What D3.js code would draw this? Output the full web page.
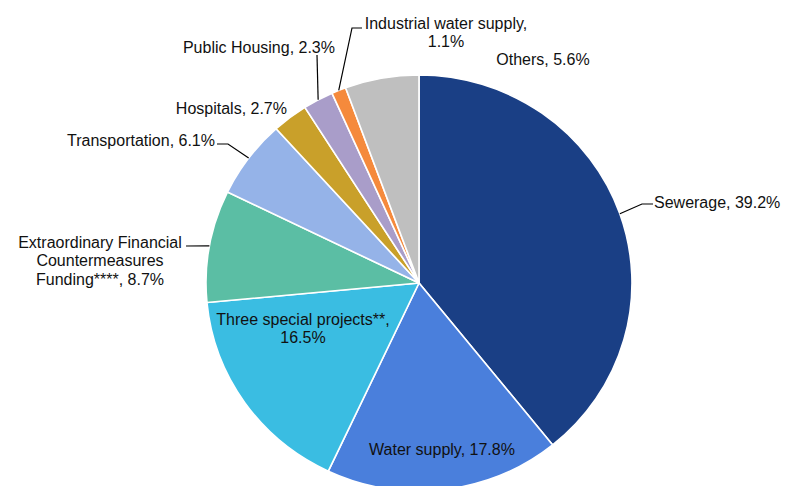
<!DOCTYPE html>
<html><head><meta charset="utf-8">
<script src="https://cdn.jsdelivr.net/npm/d3@7/dist/d3.min.js"></script>
<style>html,body{margin:0;padding:0;background:#fff;}svg{display:block;}</style>
</head><body>
<svg id="c" width="785" height="486"></svg>
<script>
// ---- data ----
const categories = ["Sewerage","Water supply","Three special projects**","Extraordinary Financial Countermeasures Funding****","Transportation","Hospitals","Public Housing","Industrial water supply","Others"];
const values = [39.2, 17.8, 16.5, 8.7, 6.1, 2.7, 2.3, 1.1, 5.6];
const labelLines = [
  ["Sewerage, 39.2%"],
  ["Water supply, 17.8%"],
  ["Three special projects**,", "16.5%"],
  ["Extraordinary Financial", "Countermeasures", "Funding****, 8.7%"],
  ["Transportation, 6.1%"],
  ["Hospitals, 2.7%"],
  ["Public Housing, 2.3%"],
  ["Industrial water supply,", "1.1%"],
  ["Others, 5.6%"]
];
const colors = ["#1a3f85","#4a7fdc","#3abde2","#5bbea4","#95b3e8","#c9a02a","#a99dc9","#f58a3c","#bfbfbf"];

// ---- layout (label placement) ----
const cx = 419, cy = 283, R = 208, sx = 213/208;
const labelLayout = [
  {x:654, y:202, anchor:"start", elbow:[[653,204],[642,204]]},
  {x:442, y:449, anchor:"middle"},
  {x:303, y:319, anchor:"middle"},
  {x:100, y:242, anchor:"middle", elbow:[[186,246]]},
  {x:215, y:140, anchor:"end", elbow:[[217,144],[228,144]]},
  {x:287, y:108, anchor:"end"},
  {x:335, y:47, anchor:"end", elbow:[[317,55]]},
  {x:446, y:23, anchor:"middle", elbow:[[362,28],[352,28]]},
  {x:543, y:59, anchor:"middle"}
];
const lineH = 18.5;

const svg = d3.select("#c");
const pie = d3.pie().sort(null).value(d => d)(values);
const arc = d3.arc().innerRadius(0).outerRadius(R);

const g = svg.append("g").attr("transform", `translate(${cx},${cy}) scale(${sx},1)`);
g.selectAll("path").data(pie).join("path")
  .attr("d", arc)
  .attr("fill", (d,i) => colors[i])
  .attr("stroke", "#fff")
  .attr("stroke-width", 1.6)
  .attr("stroke-linejoin", "round");

// leader lines
pie.forEach((d,i) => {
  const L = labelLayout[i];
  if (!L.elbow) return;
  const a = (d.startAngle + d.endAngle) / 2;
  const px = cx + sx * R * Math.sin(a), py = cy - R * Math.cos(a);
  const pts = L.elbow.concat([[px,py]]);
  svg.append("path")
    .attr("d", d3.line()(pts))
    .attr("fill","none").attr("stroke","#000").attr("stroke-width",1.2);
});

// labels
labelLines.forEach((lines,i) => {
  const L = labelLayout[i];
  const t = svg.append("text")
    .attr("text-anchor", L.anchor)
    .attr("font-family", "Liberation Sans, Arial, sans-serif")
    .attr("font-size", 16)
    .attr("fill", "#111");
  lines.forEach((s,j) => {
    t.append("tspan").attr("x", L.x).attr("y", L.y + j*lineH).attr("dy","0.35em").text(s);
  });
});
</script>
</body></html>
